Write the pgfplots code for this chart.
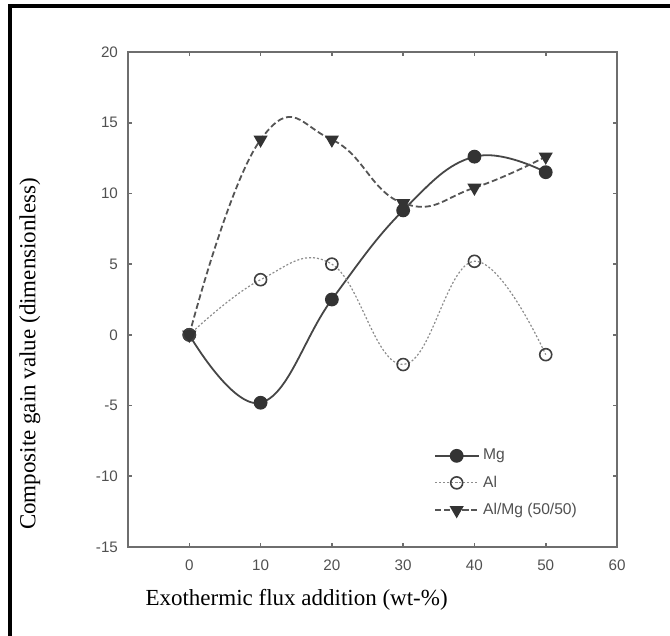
\documentclass[border=0pt]{standalone}
\usepackage{fontspec}
\setmainfont{Liberation Serif}
\setsansfont{Liberation Sans}
\usepackage{pgfplots}
\pgfplotsset{compat=1.18}
\definecolor{axgray}{RGB}{110,110,110}
\definecolor{tickgray}{RGB}{80,80,80}
\definecolor{mgline}{RGB}{70,70,70}
\definecolor{alline}{RGB}{140,140,140}
\definecolor{almgline}{RGB}{85,85,85}
\begin{document}
\begin{tikzpicture}
\useasboundingbox (0,0) rectangle (335pt,318pt);
% frame, only left and top edges are inside the crop
\draw[line width=1.6pt] (5pt,0) -- (5pt,315pt) -- (335pt,315pt);
\begin{axis}[
    at={(64pt,44.5pt)}, anchor=south west,
    scale only axis,
    width=244.5pt, height=247.5pt,
    xmin=-8.6, xmax=60,
    ymin=-15, ymax=20,
    xtick={0,10,...,60},
    ytick={-15,-10,...,20},
    tick align=inside,
    major tick length=2.2pt,
    axis line style={axgray, line width=0.9pt},
    every tick/.style={axgray, line width=0.8pt},
    /pgf/number format/assume math mode=true,
    tick label style={font=\sffamily\fontsize{7.6}{9}\selectfont, text=tickgray},
    xticklabel style={yshift=-3pt},
    yticklabel style={xshift=-1.5pt},
    legend style={draw=none, fill=none, at={(0.613,0.215)}, anchor=north west,
        font=\sffamily\fontsize{7.8}{9}\selectfont, text=tickgray,
        row sep=2.5pt, legend cell align=left},
    legend image code/.code={
        \draw[mark repeat=2,mark phase=2,#1] plot coordinates {(0cm,0cm) (0.38cm,0cm) (0.76cm,0cm)};},
]
\addplot[mgline, line width=0.9pt, smooth, tension=0.7,
    mark=*, mark size=3pt, mark options={solid, fill=black!80, draw=black!80}]
    coordinates {(0,0) (10,-4.8) (20,2.5) (30,8.8) (40,12.6) (50,11.5)};
\addlegendentry{Mg}
\addplot[alline, line width=0.6pt, dash pattern=on 1pt off 1pt, smooth, tension=0.7,
    mark=o, mark size=3pt, mark options={solid, fill=white, draw=black!75, line width=0.8pt}]
    coordinates {(0,0) (10,3.9) (20,5.0) (30,-2.1) (40,5.2) (50,-1.4)};
\addlegendentry{Al}
\addplot[almgline, line width=0.9pt, dash pattern=on 3pt off 1.5pt, smooth, tension=0.8,
    mark=triangle*, mark size=3.2pt, mark options={solid, rotate=180, fill=black!80, draw=black!80}]
    coordinates {(0,0) (10,13.8) (20,13.8) (30,9.3) (40,10.4) (50,12.6)};
\addlegendentry{Al/Mg (50/50)}
\end{axis}
\node[font=\fontsize{11.5}{13}\selectfont, anchor=base] at (148.3pt,15pt) {Exothermic flux addition (wt-\%)};
\node[font=\fontsize{11.5}{13}\selectfont, rotate=90] at (15pt,141pt) {Composite gain value (dimensionless)};
\end{tikzpicture}
\end{document}
